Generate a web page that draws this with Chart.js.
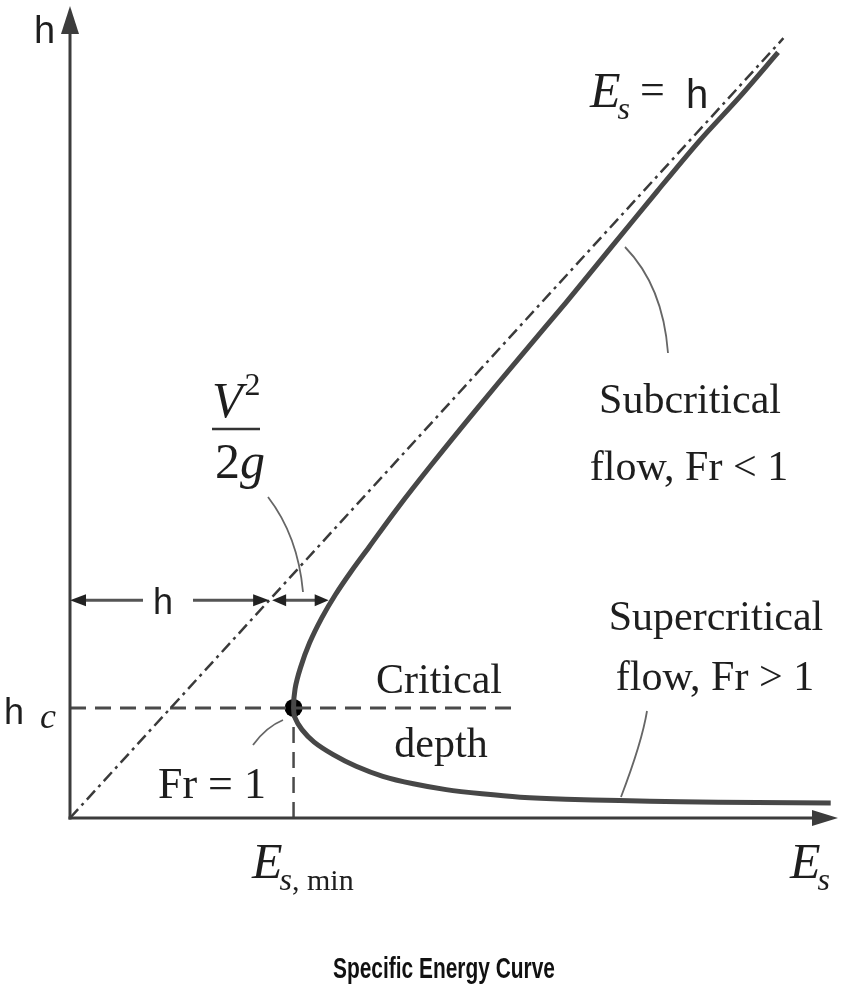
<!DOCTYPE html>
<html>
<head>
<meta charset="utf-8">
<script src="https://cdn.jsdelivr.net/npm/chart.js@4.4.0/dist/chart.umd.min.js"></script>
<style>
  body { margin: 0; background: #fff; }
  canvas { display: block; }
</style>
</head>
<body>
<canvas id="energyChart" width="842" height="990"></canvas>
<script>
// Specific energy curve: E_s vs h (arbitrary units)

// curve, from the far right of the supercritical branch round to the top of the subcritical one
const curveE = [9.97, 9.00, 8.00, 7.20, 6.50, 5.90, 5.40, 4.93, 4.50, 4.10, 3.75, 3.45, 3.20, 3.04, 2.95, 2.93, 2.95, 3.02, 3.14, 3.30, 3.48, 3.68, 3.92, 4.28, 4.75, 5.30, 5.90, 6.50, 7.10, 7.70, 8.25, 8.78, 9.28];
const curveH = [0.18, 0.185, 0.195, 0.21, 0.225, 0.25, 0.29, 0.34, 0.41, 0.50, 0.62, 0.76, 0.91, 1.06, 1.20, 1.32, 1.55, 1.80, 2.10, 2.40, 2.68, 2.95, 3.25, 3.70, 4.25, 4.87, 5.53, 6.18, 6.85, 7.52, 8.12, 8.65, 9.18];

// E_s = h reference line
const diagE = [0, 9.35];
const diagH = [0, 9.35];

// critical point
const hCritical = 1.32;
const esMin = 2.93;
const criticalLineEnd = 5.84;

// level of the h / V^2/2g dimension arrows
const arrowH = 2.61;
const arrowCurveE = 3.39;

const axisMaxE = 10;
const axisMaxH = 9.7;

const ink = '#3c3c3c';
const serif = '"Liberation Serif", "Times New Roman", serif';
const sans = '"Liberation Sans", Arial, sans-serif';

function toPoints(xs, ys) {
    return xs.map((x, i) => ({ x: x, y: ys[i] }));
}

function arrowHead(ctx, x, y, dir, len, half) {
    // dir: 'up' | 'right' | 'left'
    ctx.beginPath();
    if (dir === 'up') {
        ctx.moveTo(x, y);
        ctx.lineTo(x - half, y + len);
        ctx.lineTo(x + half, y + len);
    } else if (dir === 'right') {
        ctx.moveTo(x, y);
        ctx.lineTo(x - len, y - half);
        ctx.lineTo(x - len, y + half);
    } else {
        ctx.moveTo(x, y);
        ctx.lineTo(x + len, y - half);
        ctx.lineTo(x + len, y + half);
    }
    ctx.closePath();
    ctx.fill();
}

function line(ctx, x1, y1, x2, y2) {
    ctx.beginPath();
    ctx.moveTo(x1, y1);
    ctx.lineTo(x2, y2);
    ctx.stroke();
}

function leader(ctx, p0, c, p1) {
    ctx.beginPath();
    ctx.moveTo(p0[0], p0[1]);
    ctx.quadraticCurveTo(c[0], c[1], p1[0], p1[1]);
    ctx.stroke();
}

function text(ctx, str, x, y, font, align) {
    ctx.font = font;
    ctx.textAlign = align || 'left';
    ctx.fillText(str, x, y);
    return ctx.measureText(str).width;
}

// italic E with subscript, returns x after the subscript
function drawEs(ctx, x, y, sub) {
    const w = text(ctx, 'E', x, y, 'italic 50px ' + serif);
    let sx = x + w - 3;
    sx += text(ctx, 's', sx, y + 12, 'italic 32px ' + serif);
    if (sub) {
        sx += text(ctx, sub, sx, y + 12, '30px ' + serif);
    }
    return sx;
}

const sketchPlugin = {
    id: 'sketch',
    afterDatasetsDraw(chart) {
        const ctx = chart.ctx;
        const xs = chart.scales.x;
        const ys = chart.scales.y;
        const x0 = xs.getPixelForValue(0);
        const y0 = ys.getPixelForValue(0);

        ctx.save();
        ctx.fillStyle = ink;
        ctx.strokeStyle = ink;
        ctx.lineCap = 'butt';

        // axes with arrows
        ctx.lineWidth = 3;
        line(ctx, x0, y0 + 1.5, x0, 30);
        arrowHead(ctx, x0, 6, 'up', 28, 9);
        line(ctx, x0 - 1.5, y0, 815, y0);
        arrowHead(ctx, 838, y0, 'right', 26, 8);

        // dimension arrows: h and V^2/2g
        const ya = ys.getPixelForValue(arrowH);
        const xd = xs.getPixelForValue(arrowH);
        const xc = xs.getPixelForValue(arrowCurveE);
        ctx.strokeStyle = '#555';
        ctx.fillStyle = '#222';
        ctx.lineWidth = 3;
        line(ctx, x0 + 10, ya, x0 + 73, ya);
        line(ctx, x0 + 123, ya, xd - 12, ya);
        arrowHead(ctx, x0, ya, 'left', 16, 6);
        arrowHead(ctx, xd, ya, 'right', 16, 6);
        line(ctx, xd + 14, ya, xc - 12, ya);
        arrowHead(ctx, xd + 3, ya, 'left', 14, 6);
        arrowHead(ctx, xc, ya, 'right', 14, 6);

        // leader lines
        ctx.strokeStyle = '#666';
        ctx.lineWidth = 1.8;
        leader(ctx, [268, 497], [298, 536], [303, 592]);
        leader(ctx, [625, 247], [663, 286], [668, 353]);
        leader(ctx, [647, 711], [642, 742], [621, 797]);
        leader(ctx, [253, 745], [266, 727], [283, 720]);

        // labels
        ctx.fillStyle = '#1e1e1e';
        ctx.textBaseline = 'alphabetic';
        text(ctx, 'h', 34, 43, '38px ' + sans);
        text(ctx, 'h', 163, 614, '36px ' + sans, 'center');
        text(ctx, 'h', 4, 724, '36px ' + sans);
        text(ctx, 'c', 40, 728, 'italic 36px ' + serif);

        // E_s = h
        let ex = drawEs(ctx, 590, 107);
        text(ctx, '=', ex + 10, 104, '44px ' + serif);
        text(ctx, 'h', 686, 108, '40px ' + sans);

        // V^2 / 2g
        let vw = text(ctx, 'V', 212, 417, 'italic 50px ' + serif);
        text(ctx, '2', 212 + vw + 2, 395, '32px ' + serif);
        ctx.strokeStyle = '#333';
        ctx.lineWidth = 2.5;
        line(ctx, 212, 429, 260, 429);
        let tw = text(ctx, '2', 215, 478, '50px ' + serif);
        text(ctx, 'g', 215 + tw, 478, 'italic 50px ' + serif);

        // flow regime labels
        const body = '42px ' + serif;
        text(ctx, 'Subcritical', 690, 413, body, 'center');
        text(ctx, 'flow, Fr < 1', 689, 480, body, 'center');
        text(ctx, 'Supercritical', 716, 630, body, 'center');
        text(ctx, 'flow, Fr > 1', 715, 690, body, 'center');
        text(ctx, 'Critical', 439, 693, body, 'center');
        text(ctx, 'depth', 441, 757, body, 'center');
        text(ctx, 'Fr = 1', 158, 798, '44px ' + serif);

        // x axis labels
        drawEs(ctx, 252, 878, ', min');
        drawEs(ctx, 790, 878);

        // title, condensed to the figure's width
        ctx.font = 'bold 29px ' + sans;
        const tWidth = ctx.measureText('Specific Energy Curve').width;
        ctx.save();
        ctx.translate(333, 978);
        ctx.scale(222 / tWidth, 1);
        ctx.textAlign = 'left';
        ctx.fillStyle = '#111';
        ctx.fillText('Specific Energy Curve', 0, 0);
        ctx.restore();

        ctx.restore();
    }
};

new Chart(document.getElementById('energyChart'), {
    type: 'scatter',
    data: {
        datasets: [
            {
                label: 'Specific energy',
                data: toPoints(curveE, curveH),
                showLine: true,
                borderColor: '#474747',
                borderWidth: 5,
                pointRadius: 0,
                tension: 0.3,
                clip: false
            },
            {
                label: 'Es = h',
                data: toPoints(diagE, diagH),
                showLine: true,
                borderColor: '#3a3a3a',
                borderWidth: 2.5,
                borderDash: [12, 5, 3, 5],
                pointRadius: 0,
                clip: false
            },
            {
                label: 'Critical depth',
                data: toPoints([0, criticalLineEnd], [hCritical, hCritical]),
                showLine: true,
                borderColor: '#4a4a4a',
                borderWidth: 3,
                borderDash: [16, 9],
                pointRadius: 0,
                clip: false
            },
            {
                label: 'Es,min',
                data: toPoints([esMin, esMin], [0, hCritical]),
                showLine: true,
                borderColor: '#4a4a4a',
                borderWidth: 2.5,
                borderDash: [16, 9],
                pointRadius: 0,
                clip: false
            },
            {
                label: 'Fr = 1',
                data: toPoints([esMin], [hCritical]),
                pointRadius: 9,
                pointBackgroundColor: '#000',
                pointBorderWidth: 0,
                clip: false
            }
        ]
    },
    options: {
        responsive: false,
        animation: false,
        devicePixelRatio: 1,
        layout: { padding: { left: 70, right: 7, top: 7, bottom: 172 } },
        plugins: {
            legend: { display: false },
            tooltip: { enabled: false }
        },
        scales: {
            x: { type: 'linear', min: 0, max: axisMaxE, display: false },
            y: { type: 'linear', min: 0, max: axisMaxH, display: false }
        }
    },
    plugins: [sketchPlugin]
});
</script>
</body>
</html>
